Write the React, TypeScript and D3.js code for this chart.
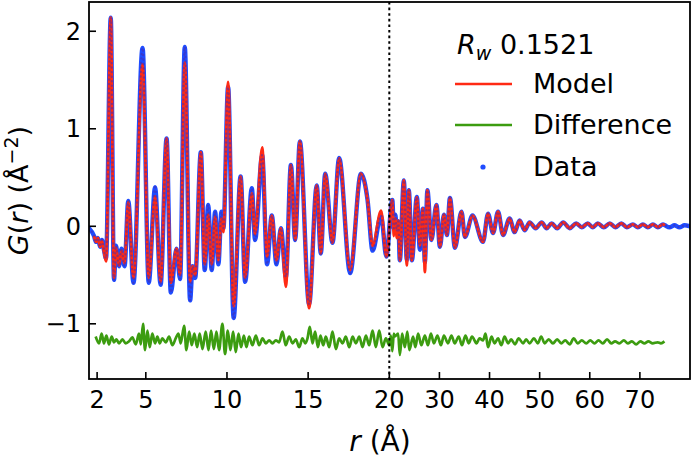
import React from "react";
import * as d3 from "d3";

// r positions of read-off extrema (Å)
const rValues = [
  1.5, 1.81, 1.93, 2.05, 2.18, 2.3, 2.42, 2.55, 2.84, 3.04, 3.16, 3.35, 3.5, 3.69, 3.92, 4.24, 4.8, 5.18, 5.57, 5.91,
  6.28, 6.54, 6.89, 7.11, 7.4, 7.73, 7.88, 8.04, 8.39, 8.63, 8.84, 9.06, 9.27, 9.47, 9.66, 9.78, 10.07, 10.41, 10.84, 11.12,
  11.53, 11.73, 12.17, 12.47, 12.76, 13.05, 13.32, 13.63, 13.94, 14.2, 14.49, 15.06, 15.53, 15.78, 16.05, 16.5, 16.91, 17.59, 18.25, 18.66,
  18.97, 19.49, 19.82, 20.6, 20.9, 21.2, 21.5, 21.8, 22.1, 22.9, 23.5, 23.9, 24.5, 25.5, 26.1, 26.7, 27.1, 27.6, 28.4, 29.4,
  30.1, 30.9, 31.5, 32.1, 33.1, 34.4, 35.1, 36.6, 38.7, 39.7, 40.7, 41.7, 42.7, 44.0, 45.0, 46.0, 47.0, 48.0, 49.2, 50.4,
  51.4, 52.4, 53.5, 54.7, 56.0, 57.3, 58.4, 59.6, 60.6, 61.6, 62.8, 64.0, 65.1, 66.3, 67.4, 68.6, 69.6, 70.6, 71.6, 72.6,
  73.6, 74.6, 75.0, 75.9, 76.9, 77.9, 78.9, 80.0,
];

// measured G(r)
const dataG = [
  -0.02, -0.1, -0.16, -0.12, -0.21, -0.14, -0.24, -0.33, 2.14, -0.55, -0.2, -0.41, -0.23, -0.41, 0.26, -0.58, 1.83, -0.58, 0.4, -0.6,
  0.9, -0.68, -0.23, -0.54, 1.84, -0.76, -0.41, -0.53, 0.76, -0.45, 0.22, -0.45, 0.15, -0.39, 0.15, -0.02, 1.43, -0.94, 0.51, -0.57,
  0.39, -0.14, 0.73, -0.39, 0.11, -0.39, -0.02, -0.52, 0.63, -0.14, 0.87, -0.8, 0.42, -0.28, 0.54, -0.17, 0.7, -0.48, 0.54, 0.27,
  -0.25, 0.11, -0.31, 0.27, -0.02, 0.12, -0.05, 0.05, -0.35, 0.47, -0.35, 0.37, -0.35, 0.3, -0.24, 0.18, -0.37, 0.37, -0.14, 0.22,
  -0.21, 0.12, -0.09, 0.29, -0.22, 0.15, -0.11, 0.11, -0.16, 0.13, -0.07, 0.15, -0.09, 0.08, -0.06, 0.06, -0.04, 0.04, -0.02, 0.04,
  -0.02, 0.03, -0.02, 0.04, -0.02, 0.03, -0.01, 0.03, -0.01, 0.03, -0.01, 0.03, -0.01, 0.03, -0.01, 0.02, -0.01, 0.02, -0.01, 0.02,
  -0.01, 0.02, 0.01, -0.01, 0.01, -0.01, 0.01, 0.0,
];

// fitted model G(r) (null = not computed)
const modelG: (number | null)[] = [
  null, -0.1, -0.16, -0.12, -0.21, -0.15, -0.26, -0.36, 2.14, -0.53, -0.22, -0.4, -0.25, -0.38, 0.25, -0.53, 1.66, -0.53, 0.31, -0.57,
  0.9, -0.58, -0.23, -0.5, 1.68, -0.57, -0.41, -0.5, 0.76, -0.39, 0.12, -0.39, 0.1, -0.35, 0.08, -0.06, 1.48, -0.82, 0.51, -0.53,
  0.34, -0.08, 0.81, -0.31, 0.11, -0.35, -0.02, -0.62, 0.63, -0.14, 0.87, -0.84, 0.42, -0.28, 0.54, -0.17, 0.7, -0.45, 0.54, 0.27,
  -0.2, 0.16, -0.31, 0.27, -0.1, 0.08, -0.12, 0.06, -0.35, 0.47, -0.4, 0.37, -0.35, 0.3, -0.2, 0.18, -0.47, 0.37, -0.14, 0.22,
  -0.21, 0.12, -0.09, 0.29, -0.22, 0.15, -0.11, 0.11, -0.16, 0.13, -0.07, 0.15, -0.09, 0.08, -0.06, 0.06, -0.04, 0.04, -0.02, 0.04,
  -0.02, 0.03, -0.02, 0.04, -0.02, 0.03, -0.01, 0.03, -0.01, 0.03, -0.01, 0.03, -0.01, 0.03, -0.01, 0.02, -0.01, 0.02, -0.01, 0.02,
  -0.01, 0.02, 0.01, null, null, null, null, null,
];

// difference curve (offset), read-off extrema
const diffR = [
  1.91, 2.12, 2.28, 2.42, 2.57, 2.73, 2.9, 3.04, 3.19, 3.35, 3.56, 3.76, 3.97, 4.17, 4.38, 4.58, 4.69, 4.83, 4.95, 5.1,
  5.24, 5.4, 5.57, 5.71, 5.86, 6.02, 6.23, 6.43, 6.64, 6.84, 7.01, 7.15, 7.36, 7.5, 7.67, 7.83, 7.99, 8.16, 8.32, 8.49,
  8.69, 8.86, 9.02, 9.19, 9.35, 9.51, 9.72, 9.88, 10.05, 10.21, 10.38, 10.54, 10.71, 10.87, 11.04, 11.2, 11.36, 11.57, 11.78, 11.98,
  12.19, 12.39, 12.6, 12.8, 13.01, 13.21, 13.42, 13.62, 13.83, 14.04, 14.24, 14.45, 14.65, 14.82, 14.96, 15.1, 15.27, 15.43, 15.6, 15.76,
  15.93, 16.09, 16.3, 16.5, 16.71, 16.91, 17.12, 17.32, 17.53, 17.74, 17.94, 18.15, 18.35, 18.56, 18.76, 18.97, 19.17, 19.38, 19.58, 19.79,
  20.0, 20.3, 20.6, 20.9, 21.1, 21.76, 22.1, 22.56, 23.1, 23.6, 24.0, 24.75, 25.2, 25.75, 26.4, 27.1, 27.7, 28.3, 28.9, 29.6,
  30.3, 30.9, 31.7, 32.4, 33.05, 33.85, 34.5, 35.2, 35.85, 36.5, 37.4, 38.0, 38.7, 39.2, 39.7, 40.4, 41.0, 41.7, 42.35, 43.0,
  43.7, 44.3, 45.1, 45.8, 46.7, 47.3, 48.0, 48.85, 49.65, 50.3, 51.0, 51.8, 52.65, 53.5, 54.3, 55.1, 56.0, 56.8, 57.6, 58.4,
  59.3, 60.1, 60.95, 61.75, 62.6, 63.45, 64.3, 65.05, 65.9, 66.8, 67.6, 68.4, 69.25, 70.1, 70.9, 71.7, 72.55, 73.55, 74.2, 74.9,
];
const diffG = [
  -1.13, -1.2, -1.1, -1.2, -1.12, -1.21, -1.13, -1.19, -1.16, -1.2, -1.16, -1.2, -1.18, -1.14, -1.21, -1.1, -1.21, -1.0, -1.27, -1.07,
  -1.24, -1.1, -1.2, -1.13, -1.2, -1.15, -1.19, -1.13, -1.22, -1.15, -1.1, -1.2, -1.02, -1.27, -1.08, -1.22, -1.1, -1.24, -1.1, -1.26,
  -1.08, -1.27, -1.07, -1.26, -1.08, -1.27, -1.0, -1.31, -1.07, -1.27, -1.08, -1.29, -1.1, -1.24, -1.12, -1.24, -1.13, -1.22, -1.12, -1.22,
  -1.15, -1.2, -1.17, -1.2, -1.17, -1.19, -1.08, -1.22, -1.13, -1.2, -1.16, -1.24, -1.15, -1.2, -1.15, -1.03, -1.2, -1.08, -1.24, -1.12,
  -1.22, -1.13, -1.24, -1.08, -1.26, -1.15, -1.2, -1.13, -1.24, -1.13, -1.2, -1.13, -1.24, -1.12, -1.22, -1.07, -1.24, -1.07, -1.24, -1.15,
  -1.22, -1.12, -1.28, -1.1, -1.13, -1.1, -1.32, -1.1, -1.24, -1.08, -1.27, -1.13, -1.24, -1.1, -1.22, -1.12, -1.22, -1.1, -1.2, -1.12,
  -1.22, -1.12, -1.2, -1.12, -1.2, -1.13, -1.22, -1.12, -1.2, -1.13, -1.2, -1.15, -1.17, -1.1, -1.24, -1.13, -1.2, -1.15, -1.22, -1.13,
  -1.2, -1.16, -1.21, -1.15, -1.2, -1.16, -1.2, -1.15, -1.2, -1.13, -1.2, -1.16, -1.2, -1.16, -1.2, -1.17, -1.21, -1.15, -1.2, -1.17,
  -1.2, -1.17, -1.2, -1.17, -1.2, -1.16, -1.2, -1.18, -1.2, -1.17, -1.2, -1.18, -1.21, -1.18, -1.2, -1.18, -1.2, -1.19, -1.2, -1.18,
];

const xTicks = [2, 5, 10, 15, 20, 30, 40, 50, 60, 70];
const yTicks = [-1, 0, 1, 2];
const rwValue = "0.1521";

const FONT = "'DejaVu Sans', sans-serif";
const BLUE = "#1f4cff";
const RED = "#ff2a14";
const GREEN = "#3c9c10";

export default function App() {
  const left = 89, right = 690, top = 2, bottom = 379;
  const x = d3.scaleLinear().domain([1.5, 20, 80]).range([left, 389.3, right]);
  const y = d3.scaleLinear().domain([-1.566, 2.3]).range([bottom, top]);

  const dataPts = rValues.map((r, i) => [r, dataG[i]] as [number, number]);
  const modelPts = rValues.map((r, i) => [r, modelG[i]] as [number, number | null]);
  const diffPts = diffR.map((r, i) => [r, diffG[i]] as [number, number]);

  const lineData = d3.line<[number, number]>().x((d) => x(d[0])).y((d) => y(d[1])).curve(d3.curveMonotoneX);
  const lineModel = d3
    .line<[number, number | null]>()
    .defined((d) => d[1] !== null)
    .x((d) => x(d[0]))
    .y((d) => y(d[1] as number))
    .curve(d3.curveMonotoneX);

  const dPath = lineData(dataPts) || "";
  const mPath = lineModel(modelPts) || "";
  const diffPath = lineData(diffPts) || "";

  return (
    <svg width={692} height={461} style={{ position: "absolute", left: 0, top: 0, background: "#fff" }} fontFamily={FONT}>
      <defs>
        <clipPath id="plot">
          <rect x={left} y={top} width={right - left} height={bottom - top} />
        </clipPath>
      </defs>
      <rect x={0} y={0} width={692} height={461} fill="#fff" />
      <g clipPath="url(#plot)">
        {/* data band */}
        <path d={dPath} fill="none" stroke={BLUE} strokeWidth={4.4} strokeLinejoin="round" strokeLinecap="round" />
        {/* model */}
        <path d={mPath} fill="none" stroke={RED} strokeWidth={2.8} strokeLinejoin="round" />
        {/* data point texture */}
        <path
          d={dPath}
          fill="none"
          stroke="#4a2aa8"
          strokeOpacity={0.55}
          strokeWidth={2.4}
          strokeDasharray="0 4.5"
          strokeLinecap="round"
        />
        {/* difference */}
        <path d={diffPath} fill="none" stroke={GREEN} strokeWidth={2.7} strokeLinejoin="round" />
        {/* r = 20 marker */}
        <line x1={x(20)} x2={x(20)} y1={top} y2={bottom} stroke="#000" strokeWidth={2} strokeDasharray="2.6 3" />
      </g>
      {/* frame */}
      <rect x={left} y={top} width={right - left} height={bottom - top} fill="none" stroke="#000" strokeWidth={1.8} />
      {/* x ticks */}
      {xTicks.map((t) => (
        <g key={"x" + t}>
          <line x1={x(t)} x2={x(t)} y1={bottom} y2={bottom - 7} stroke="#000" strokeWidth={1.6} />
          <text x={x(t)} y={408} fontSize={24} textAnchor="middle" fill="#000">
            {t}
          </text>
        </g>
      ))}
      {/* y ticks */}
      {yTicks.map((t) => (
        <g key={"y" + t}>
          <line x1={left} x2={left + 7} y1={y(t)} y2={y(t)} stroke="#000" strokeWidth={1.6} />
          <text x={81} y={y(t)} dy="0.36em" fontSize={24} textAnchor="end" fill="#000">
            {t < 0 ? "\u2212" + Math.abs(t) : String(t)}
          </text>
        </g>
      ))}
      {/* axis labels */}
      <text x={380} y={451} fontSize={28} textAnchor="middle" fill="#000">
        <tspan fontStyle="italic">r</tspan> (Å)
      </text>
      <text transform="translate(28,190.5) rotate(-90)" fontSize={27} textAnchor="middle" fill="#000">
        <tspan fontStyle="italic">G</tspan>(<tspan fontStyle="italic">r</tspan>) (Å
        <tspan dy={-10} fontSize={19}>
          {"\u22122"}
        </tspan>
        <tspan dy={10}>)</tspan>
      </text>
      {/* legend */}
      <text x={457} y={54} fontSize={27} fill="#000">
        <tspan fontStyle="italic">R</tspan>
        <tspan fontStyle="italic" fontSize={19} dy={6}>
          w
        </tspan>
        <tspan dy={-6}> {rwValue}</tspan>
      </text>
      <line x1={455} x2={512} y1={84} y2={84} stroke={RED} strokeWidth={2.5} />
      <text x={533} y={93} fontSize={27} fill="#000">
        Model
      </text>
      <line x1={455} x2={512} y1={125} y2={125} stroke={GREEN} strokeWidth={2.5} />
      <text x={533} y={134} fontSize={27} fill="#000">
        Difference
      </text>
      <circle cx={483} cy={167} r={2.6} fill={BLUE} />
      <text x={533} y={176} fontSize={27} fill="#000">
        Data
      </text>
    </svg>
  );
}
